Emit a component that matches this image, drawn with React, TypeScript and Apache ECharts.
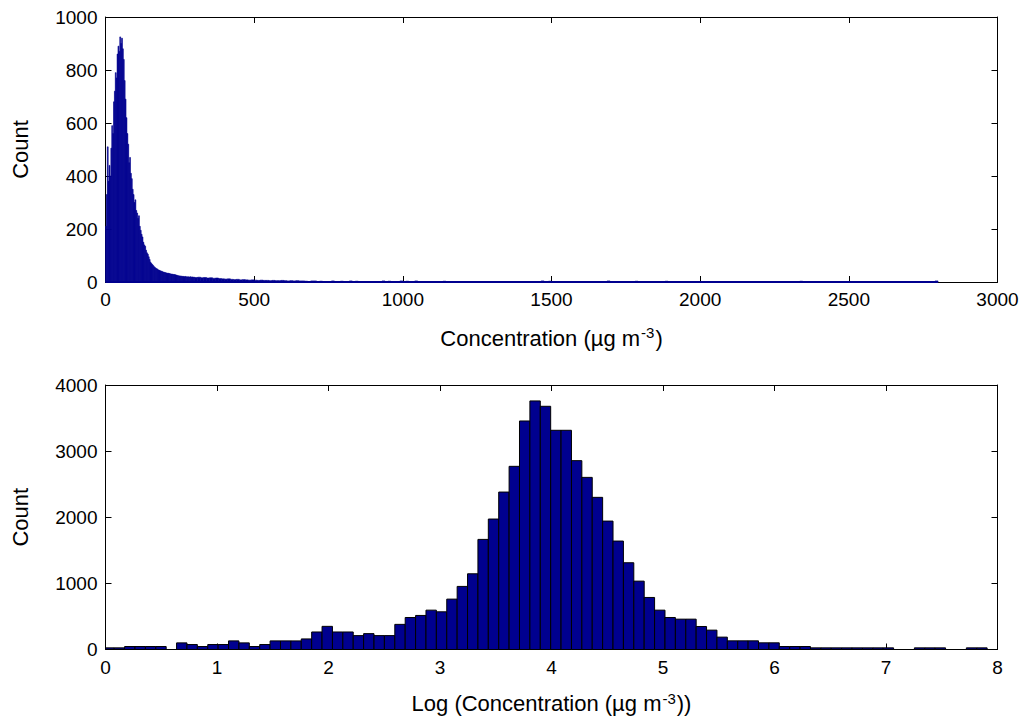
import React, { useEffect, useRef } from "react";
import * as echarts from "echarts";

// ---- Top panel: histogram of concentration (µg m^-3) ----
const topCoreStart = 0;
const topCoreWidth = 3;
const topCoreCounts = [
  210, 330, 510, 380, 440, 400, 505, 590, 560, 680,
  720, 790, 770, 860, 890, 870, 925, 900, 920, 880,
  840, 760, 690, 620, 560, 520, 450, 470, 410, 390,
  350, 330, 300, 310, 270, 260, 240, 250, 210, 195,
  180, 170, 150, 140, 135, 120, 110, 105, 95, 85,
  75, 70, 66, 62, 58, 55, 52, 50, 48, 45,
  44, 42, 41, 40, 38, 37, 36, 35, 34, 33,
  33, 32, 31, 30, 30, 29, 28, 28, 27, 26,
  25, 24, 23, 23, 22, 22, 21, 21, 20, 21,
  20, 19, 20, 19, 19, 20, 18, 19, 18, 18,
];
const topTailStart = 300;
const topTailWidth = 10;
const topTailCounts = [
  17, 18, 16, 17, 15, 16, 14, 15, 13, 12,
  11, 12, 10, 9, 10, 8, 9, 8, 7, 8,
  7, 6, 7, 6, 6, 5, 6, 5, 5, 6,
  5, 4, 5, 4, 5, 4, 4, 3, 0, 4,
];
const topOutlierPositions = [700, 720, 760, 790, 820, 840, 930, 950, 990, 1010, 1040, 1135, 1465, 1490, 1687, 1781, 1882, 2335, 2790];
const topOutlierCounts = [4, 3, 4, 3, 4, 3, 4, 3, 4, 3, 4, 3, 4, 3, 4, 3, 3, 3, 4];
const topOutlierWidth = 10;
const topRangeEnd = 2800;

// ---- Bottom panel: histogram of log(concentration) ----
const logBinStart = -0.015;
const logBinWidth = 0.0932;
const logCounts = [
  25, 25, 45, 45, 45, 45, 0, 100, 75, 45,
  75, 75, 130, 100, 45, 75, 130, 130, 130, 160,
  265, 350, 265, 265, 210, 240, 210, 210, 380, 484,
  515, 595, 570, 762, 954, 1145, 1665, 1973, 2381, 2770,
  3456, 3759, 3678, 3315, 3315, 2856, 2603, 2301, 1942, 1640,
  1312, 1034, 787, 595, 484, 459, 459, 348, 293, 187,
  131, 131, 131, 101, 101, 45, 45, 45, 25, 25,
  25, 25, 25, 25, 25, 25, 0, 0, 25, 25,
  25, 0, 0, 25, 25,
];

const FONT = '"Liberation Sans", Arial, Helvetica, sans-serif';
const BAR_FILL = "#00008F";

function binsFrom(start: number, width: number, counts: number[]) {
  return counts.map((c, i) => [start + i * width, start + (i + 1) * width, c]);
}

function makeRender(fill: string, stroke: string, lw: number) {
  return (params: any, api: any) => {
    const x0 = api.value(0);
    const x1 = api.value(1);
    const y = api.value(2);
    if (!y) return null;
    const p0 = api.coord([x0, y]);
    const p1 = api.coord([x1, 0]);
    const cs = params.coordSys;
    const shape = echarts.graphic.clipRectByRect(
      { x: p0[0], y: p0[1], width: p1[0] - p0[0], height: p1[1] - p0[1] },
      { x: cs.x, y: cs.y, width: cs.width, height: cs.height }
    );
    if (!shape) return null;
    return {
      type: "rect",
      shape,
      style: { fill, stroke, lineWidth: lw },
    };
  };
}

const TICK_FS = 19;
const NAME_FS = 22;
const tickCommon = { show: true, inside: true, length: 6, lineStyle: { color: "#000", width: 1 } };
const lineCommon = { show: true, onZero: false, lineStyle: { color: "#000", width: 1 } };
const labelCommon = { color: "#000", fontSize: TICK_FS, fontFamily: FONT, formatter: (v: number) => String(v) };
const nameStyle = { color: "#000", fontSize: NAME_FS, fontFamily: FONT };
const nameRich = {
  sup: { fontSize: 15, fontFamily: FONT, color: "#000", padding: [0, 1, 11, 1] },
};

export default function App() {
  const ref = useRef<HTMLDivElement>(null);
  useEffect(() => {
    if (!ref.current) return;
    const chart = echarts.init(ref.current, null, { renderer: "svg" });
    const topData = [
      ...binsFrom(topCoreStart, topCoreWidth, topCoreCounts),
      ...binsFrom(topTailStart, topTailWidth, topTailCounts),
      ...topOutlierPositions.map((p, i) => [p, p + topOutlierWidth, topOutlierCounts[i]]),
    ];
    const logData = binsFrom(logBinStart, logBinWidth, logCounts);

    const grids = [
      { left: 105.5, top: 17, width: 892, height: 265 },
      { left: 105.5, top: 385, width: 892, height: 264.5 },
    ];

    const option: any = {
      animation: false,
      backgroundColor: "#fff",
      textStyle: { fontFamily: FONT },
      grid: grids,
      xAxis: [
        {
          type: "value", gridIndex: 0, min: 0, max: 3000, interval: 500,
          axisLine: lineCommon, axisTick: tickCommon, splitLine: { show: false },
          axisLabel: { ...labelCommon, margin: 8 },
          name: "Concentration (µg m{sup|-3})",
          nameLocation: "middle", nameGap: 43,
          nameTextStyle: { ...nameStyle, rich: nameRich },
        },
        {
          type: "value", gridIndex: 0, min: 0, max: 3000, interval: 500, position: "top",
          axisLine: lineCommon, axisTick: tickCommon, splitLine: { show: false },
          axisLabel: { show: false },
        },
        {
          type: "value", gridIndex: 1, min: 0, max: 8, interval: 1,
          axisLine: lineCommon, axisTick: tickCommon, splitLine: { show: false },
          axisLabel: { ...labelCommon, margin: 8 },
          name: "Log (Concentration (µg m{sup|-3}))",
          nameLocation: "middle", nameGap: 41,
          nameTextStyle: { ...nameStyle, rich: nameRich },
        },
        {
          type: "value", gridIndex: 1, min: 0, max: 8, interval: 1, position: "top",
          axisLine: lineCommon, axisTick: tickCommon, splitLine: { show: false },
          axisLabel: { show: false },
        },
      ],
      yAxis: [
        {
          type: "value", gridIndex: 0, min: 0, max: 1000, interval: 200,
          axisLine: lineCommon, axisTick: tickCommon, splitLine: { show: false },
          axisLabel: { ...labelCommon, margin: 8 },
          name: "Count", nameLocation: "middle", nameGap: 74,
          nameTextStyle: nameStyle,
        },
        {
          type: "value", gridIndex: 0, min: 0, max: 1000, interval: 200, position: "right",
          axisLine: lineCommon, axisTick: tickCommon, splitLine: { show: false },
          axisLabel: { show: false },
        },
        {
          type: "value", gridIndex: 1, min: 0, max: 4000, interval: 1000,
          axisLine: lineCommon, axisTick: tickCommon, splitLine: { show: false },
          axisLabel: { ...labelCommon, margin: 8 },
          name: "Count", nameLocation: "middle", nameGap: 74,
          nameTextStyle: nameStyle,
        },
        {
          type: "value", gridIndex: 1, min: 0, max: 4000, interval: 1000, position: "right",
          axisLine: lineCommon, axisTick: tickCommon, splitLine: { show: false },
          axisLabel: { show: false },
        },
      ],
      series: [
        {
          type: "line", xAxisIndex: 0, yAxisIndex: 0,
          data: [[0, 0], [topRangeEnd, 0]],
          symbol: "none", lineStyle: { color: BAR_FILL, width: 2 }, z: 1,
        },
        {
          type: "custom", xAxisIndex: 0, yAxisIndex: 0,
          renderItem: makeRender(BAR_FILL, BAR_FILL, 0.6),
          encode: { x: [0, 1], y: 2 },
          data: topData, z: 2,
        },
        {
          type: "custom", xAxisIndex: 2, yAxisIndex: 2,
          renderItem: makeRender(BAR_FILL, "#000", 1),
          encode: { x: [0, 1], y: 2 },
          data: logData, z: 2,
        },
      ],
    };
    chart.setOption(option);
    return () => chart.dispose();
  }, []);
  return (
    <div
      ref={ref}
      style={{ position: "fixed", left: 0, top: 0, width: 1030, height: 725, background: "#fff" }}
    />
  );
}
